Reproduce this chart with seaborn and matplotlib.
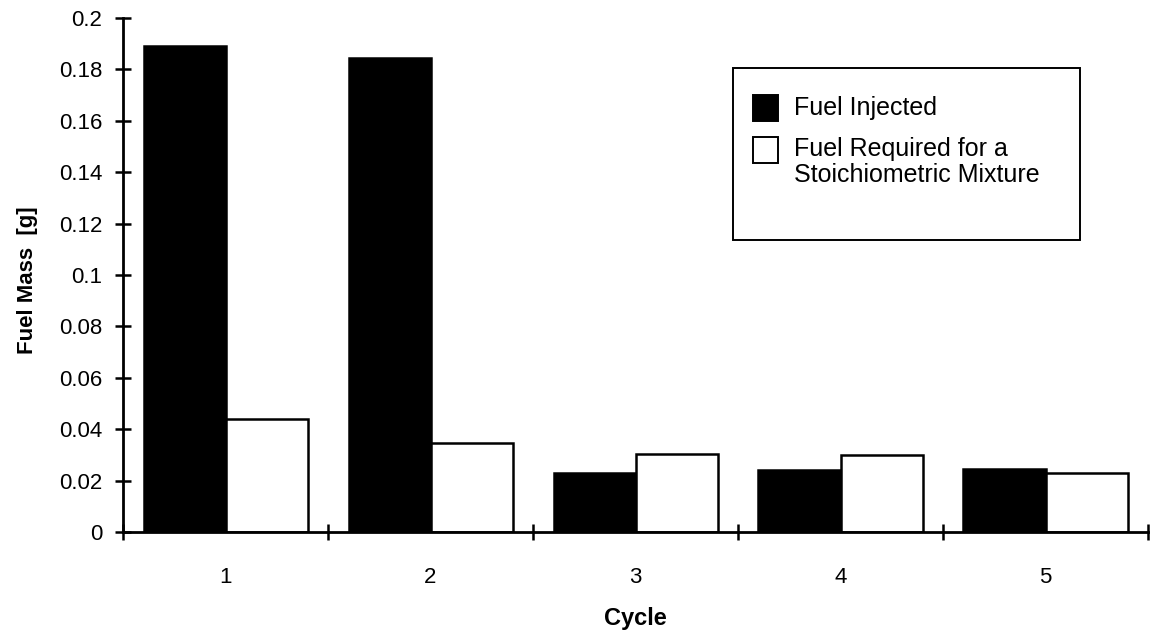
import matplotlib
matplotlib.use("Agg")
import matplotlib.pyplot as plt
import seaborn as sns
import pandas as pd
from matplotlib.patches import Rectangle
from matplotlib.ticker import FixedLocator, FixedFormatter

# Fuel mass per engine cycle
cycles = ["1", "2", "3", "4", "5"]
fuel_injected = [0.1892, 0.1845, 0.0230, 0.0243, 0.0246]
fuel_stoich = [0.0439, 0.0348, 0.0303, 0.0301, 0.0230]
series_names = ["Fuel Injected", "Fuel Required for a\nStoichiometric Mixture"]
series_colors = ["black", "white"]
y_ticks = [0, 0.02, 0.04, 0.06, 0.08, 0.1, 0.12, 0.14, 0.16, 0.18, 0.2]
y_tick_labels = ["0", "0.02", "0.04", "0.06", "0.08", "0.1", "0.12", "0.14", "0.16", "0.18", "0.2"]

df = pd.DataFrame({
    "Cycle": cycles * 2,
    "Fuel Mass": fuel_injected + fuel_stoich,
    "Series": [series_names[0]] * len(cycles) + [series_names[1]] * len(cycles),
})

sns.set_theme(style="white")
plt.rcParams["font.family"] = ["Liberation Sans", "DejaVu Sans"]

W, H = 1154, 635
fig = plt.figure(figsize=(W / 100, H / 100), dpi=100)
ax = fig.add_axes([123 / W, 1 - 532 / H, (1148 - 123) / W, (532 - 18) / H])

sns.barplot(
    data=df, x="Cycle", y="Fuel Mass", hue="Series",
    palette=series_colors, edgecolor="black", linewidth=1.8,
    width=0.8, ax=ax, saturation=1, legend=False,
)

ax.set_xlim(-0.5, len(cycles) - 0.5)
ax.set_ylim(0, 0.2)

# y ticks crossing the axis line
ax.yaxis.set_major_locator(FixedLocator(y_ticks))
ax.yaxis.set_major_formatter(FixedFormatter(y_tick_labels))
ax.tick_params(axis="y", which="major", direction="inout", length=12, width=1.8,
               labelsize=16, pad=9, left=True, color="black", labelcolor="black")

# category labels at centres, tick marks on category boundaries
ax.set_xticks(range(len(cycles)))
ax.set_xticklabels(cycles)
ax.set_xticks([i - 0.5 for i in range(len(cycles) + 1)], minor=True)
ax.tick_params(axis="x", which="major", length=0, labelsize=16, pad=25, labelcolor="black")
ax.tick_params(axis="x", which="minor", direction="inout", length=12, width=1.8,
               bottom=True, color="black")

for side in ["top", "right"]:
    ax.spines[side].set_visible(False)
for side in ["left", "bottom"]:
    ax.spines[side].set_color("black")
    ax.spines[side].set_linewidth(2)

ax.set_xlabel("Cycle", fontsize=17, fontweight="bold", labelpad=14, color="black")
ax.set_ylabel("Fuel Mass  [g]", fontsize=16, fontweight="bold", color="black")
ax.yaxis.set_label_coords(-0.083, 0.49)

# legend box with square swatches
def fx(px):
    return px / W

def fy(py):
    return 1 - py / H

fig.patches.append(Rectangle((fx(733), fy(240)), fx(1080) - fx(733), fy(68) - fy(240),
                             transform=fig.transFigure, facecolor="white",
                             edgecolor="black", linewidth=1.4, zorder=5))
swatch = 25
swatch_y = [108, 150]
for color, cy in zip(series_colors, swatch_y):
    fig.patches.append(Rectangle((fx(753), fy(cy + swatch / 2)), swatch / W, swatch / H,
                                 transform=fig.transFigure, facecolor=color,
                                 edgecolor="black", linewidth=1.4, zorder=6))
fig.text(fx(794), fy(108), series_names[0], fontsize=18, va="center", ha="left",
         color="black", zorder=7)
fig.text(fx(794), fy(137), series_names[1], fontsize=18, va="top", ha="left",
         color="black", linespacing=1.12, zorder=7)

fig.savefig("out.png", dpi=100)
